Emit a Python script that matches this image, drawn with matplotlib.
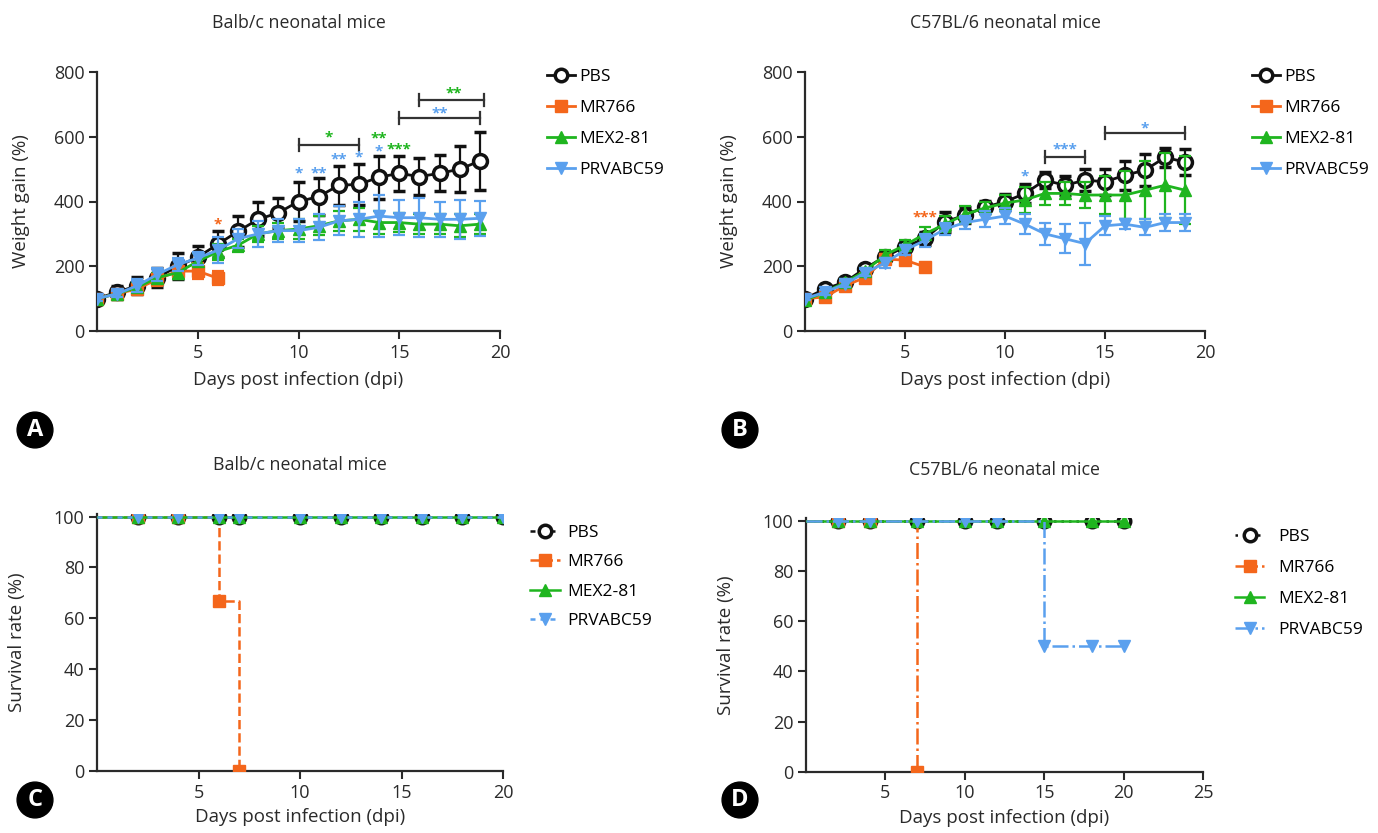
import numpy as np
import matplotlib
matplotlib.use("Agg")
import matplotlib.pyplot as plt
from matplotlib.lines import Line2D

plt.rcParams['font.family'] = ['Open Sans', 'DejaVu Sans']

# colours
c_pbs = '#111111'
c_mr = '#f4661b'
c_mex = '#1fb51f'
c_prv = '#5aa0ee'

groups = ['PBS', 'MR766', 'MEX2-81', 'PRVABC59']

# ---- weight gain, Balb/c (A)
days_a = list(range(20))
pbs_a = [100, 120, 140, 165, 200, 228, 268, 308, 345, 365, 400, 415, 450, 453, 475, 487, 477, 487, 500, 525]
pbs_a_err = [10, 20, 27, 30, 40, 35, 40, 47, 52, 46, 60, 58, 60, 63, 66, 54, 56, 56, 72, 89]
days_mr_a = list(range(7))
mr_a = [100, 115, 130, 160, 185, 185, 163]
mr_a_err = [10, 12, 15, 20, 15, 25, 22]
mex_a = [100, 115, 135, 165, 180, 215, 245, 265, 300, 310, 315, 325, 340, 345, 335, 335, 330, 330, 325, 330]
mex_a_err = [8, 10, 12, 15, 20, 25, 25, 20, 25, 25, 30, 30, 30, 35, 35, 30, 30, 30, 35, 30]
prv_a = [100, 115, 140, 175, 205, 225, 250, 285, 300, 310, 310, 320, 340, 345, 355, 350, 350, 345, 345, 348]
prv_a_err = [8, 10, 20, 20, 20, 20, 40, 30, 40, 35, 35, 40, 45, 55, 65, 55, 60, 55, 60, 55]

# ---- weight gain, C57BL/6 (B)
days_b = list(range(20))
pbs_b = [100, 130, 151, 193, 230, 260, 286, 337, 358, 383, 399, 425, 466, 450, 466, 461, 481, 497, 536, 522]
pbs_b_err = [8, 10, 10, 10, 15, 15, 20, 30, 25, 20, 25, 30, 25, 30, 35, 40, 45, 50, 30, 40]
days_mr_b = list(range(7))
mr_b = [100, 105, 140, 165, 222, 219, 198]
mr_b_err = [5, 8, 10, 10, 15, 15, 10]
mex_b = [95, 120, 150, 185, 235, 265, 300, 330, 360, 380, 395, 405, 425, 425, 420, 420, 420, 435, 450, 435]
mex_b_err = [5, 8, 10, 10, 15, 15, 20, 25, 25, 20, 25, 40, 35, 35, 40, 60, 75, 90, 100, 105]
prv_b = [100, 120, 145, 180, 210, 250, 280, 315, 335, 345, 355, 330, 300, 285, 270, 325, 330, 320, 335, 335]
prv_b_err = [5, 8, 10, 10, 15, 15, 20, 20, 20, 25, 25, 30, 35, 45, 65, 30, 15, 25, 25, 25]

# significance marks: (text, day, value, colour)
stars_a = [('*', 6, 330, c_mr), ('*', 10, 488, c_prv), ('**', 11, 488, c_prv),
           ('**', 12, 530, c_prv), ('*', 13, 535, c_prv), ('*', 14, 555, c_prv),
           ('**', 14, 595, c_mex), ('***', 15, 560, c_mex),
           ('*', 11.5, 597, c_mex), ('**', 17, 672, c_prv), ('**', 17.7, 733, c_mex)]
brackets_a = [(10, 13, 574), (15, 19, 657), (16, 19.2, 713)]
stars_b = [('***', 6, 352, c_mr), ('*', 11, 478, c_prv), ('***', 13, 560, c_prv),
           ('*', 17, 627, c_prv)]
brackets_b = [(12, 14, 538), (15, 19, 611)]

# ---- survival, Balb/c (C)
days_c = [0, 2, 4, 6, 7, 10, 12, 14, 16, 18, 20]
surv_pbs_c = [100] * 11
days_mr_c = [0, 2, 4, 6, 7]
surv_mr_c = [100, 100, 100, 66.7, 0]
surv_mex_c = [100] * 11
surv_prv_c = [100] * 11

# ---- survival, C57BL/6 (D)
days_d = [0, 2, 4, 7, 10, 12, 15, 18, 20]
surv_pbs_d = [100] * 9
days_mr_d = [0, 2, 4, 7]
surv_mr_d = [100, 100, 100, 0]
surv_mex_d = [100] * 9
surv_prv_d = [100, 100, 100, 100, 100, 100, 50, 50, 50]

W, H = 1378, 833
fig = plt.figure(figsize=(W / 100, H / 100), dpi=100)


def box(x0, x1, ytop, ybot):
    return [x0 / W, 1 - ybot / H, (x1 - x0) / W, (ybot - ytop) / H]


def style_axes(ax, xmax, xticks, ymax, yticks, ylabel, title, xpad, ypad):
    for s in ['top', 'right']:
        ax.spines[s].set_visible(False)
    for s in ['left', 'bottom']:
        ax.spines[s].set_linewidth(1.6)
        ax.spines[s].set_color('#2a2a2a')
    ax.set_xlim(0, xmax)
    ax.set_ylim(0, ymax)
    ax.set_xticks(xticks)
    ax.set_yticks(yticks)
    ax.tick_params(direction='out', length=6, width=1.5, labelsize=13, colors='#2a2a2a', pad=3)
    ax.set_xlabel('Days post infection (dpi)', fontsize=13.5, labelpad=xpad, color='#2a2a2a')
    ax.set_ylabel(ylabel, fontsize=13.5, labelpad=ypad, color='#2a2a2a')
    ax.text(0.5, 1.19, title, transform=ax.transAxes, ha='center', va='center',
            fontsize=12.8, color='#2a2a2a')


def weight_panel(ax, d, pbs, pbs_e, dmr, mr, mr_e, mex, mex_e, prv, prv_e, stars, brackets, title):
    kw = dict(lw=2, capsize=4, elinewidth=1.6, capthick=1.6)
    ax.errorbar(d, pbs, yerr=pbs_e, color=c_pbs, marker='o', ms=10, mfc='white', mew=2.5, zorder=3, **kw)
    ax.errorbar(dmr, mr, yerr=mr_e, color=c_mr, marker='s', ms=8, zorder=4, **kw)
    ax.errorbar(d, mex, yerr=mex_e, color=c_mex, marker='^', ms=8, zorder=4, **kw)
    ax.errorbar(d, prv, yerr=prv_e, color=c_prv, marker='v', ms=8, zorder=5, **kw)
    for txt, x, y, col in stars:
        ax.text(x, y, txt, color=col, ha='center', va='center', fontsize=11, fontweight='bold')
    for x0, x1, y in brackets:
        ax.plot([x0, x1], [y, y], color='#333333', lw=1.6)
        ax.plot([x0, x0], [y - 18, y + 18], color='#333333', lw=1.6)
        ax.plot([x1, x1], [y - 18, y + 18], color='#333333', lw=1.6)
    style_axes(ax, 20, [5, 10, 15, 20], 800, [0, 200, 400, 600, 800], 'Weight gain (%)', title, 7, 17)
    handles = [Line2D([], [], color=c_pbs, lw=2, marker='o', ms=9, mfc='white', mew=2.5),
               Line2D([], [], color=c_mr, lw=2, marker='s', ms=8),
               Line2D([], [], color=c_mex, lw=2, marker='^', ms=8),
               Line2D([], [], color=c_prv, lw=2, marker='v', ms=8)]
    ax.legend(handles, groups, loc='upper left', bbox_to_anchor=(1.1, 1.04), frameon=False,
              fontsize=12.5, handlelength=1.6, handletextpad=0.25,
              labelspacing=0.86, borderaxespad=0)


def surv_panel(ax, d, pbs, dmr, mr, mex, prv, xmax, xticks, styles, title, leg_anchor, tpad, lspace):
    ax.plot(d, pbs, drawstyle='steps-post', color=c_pbs, ls=styles[0], lw=1.8, marker='o', ms=9,
            mfc='white', mew=2.5, markevery=slice(1, None), label='PBS', zorder=3)
    ax.plot(dmr, mr, drawstyle='steps-post', color=c_mr, ls=styles[1], lw=1.8, marker='s', ms=8,
            markevery=slice(1, None), label='MR766', zorder=4)
    ax.plot(d, mex, drawstyle='steps-post', color=c_mex, ls=styles[2], lw=1.8, marker='^', ms=8,
            markevery=slice(1, None), label='MEX2-81', zorder=4)
    ax.plot(d, prv, drawstyle='steps-post', color=c_prv, ls=styles[3], lw=1.8, marker='v', ms=8,
            markevery=slice(1, None), label='PRVABC59', zorder=5)
    style_axes(ax, xmax, xticks, 100, [0, 20, 40, 60, 80, 100], 'Survival rate (%)', title, 5, 20)
    ax.set_ylim(0, 101)
    ax.legend(loc='upper left', bbox_to_anchor=leg_anchor, frameon=False,
              fontsize=12.5, handlelength=1.7, handletextpad=tpad,
              labelspacing=lspace, borderaxespad=0)


ax_a = fig.add_axes(box(97, 500, 72, 331))
weight_panel(ax_a, days_a, pbs_a, pbs_a_err, days_mr_a, mr_a, mr_a_err, mex_a, mex_a_err,
             prv_a, prv_a_err, stars_a, brackets_a, 'Balb/c neonatal mice')

ax_b = fig.add_axes(box(805, 1205, 72, 331))
weight_panel(ax_b, days_b, pbs_b, pbs_b_err, days_mr_b, mr_b, mr_b_err, mex_b, mex_b_err,
             prv_b, prv_b_err, stars_b, brackets_b, 'C57BL/6 neonatal mice')

ax_c = fig.add_axes(box(97, 503, 514, 771))
surv_panel(ax_c, days_c, surv_pbs_c, days_mr_c, surv_mr_c, surv_mex_c, surv_prv_c, 20,
           [5, 10, 15, 20], [(0, (2, 2)), '--', '-', (0, (2, 2))], 'Balb/c neonatal mice',
           (1.05, 0.985), 0.45, 0.76)

ax_d = fig.add_axes(box(806, 1203, 518, 772))
surv_panel(ax_d, days_d, surv_pbs_d, days_mr_d, surv_mr_d, surv_mex_d, surv_prv_d, 25,
           [5, 10, 15, 20, 25], [(0, (1, 2)), '-.', '-', '-.'], 'C57BL/6 neonatal mice',
           (1.063, 0.985), 0.8, 0.86)

# panel badges
for lab, x, y in [('A', 35, 430), ('B', 740, 430), ('C', 35, 800), ('D', 740, 800)]:
    fig.text(x / W, 1 - y / H, lab, ha='center', va='center', color='white', fontsize=17,
             fontweight='bold', bbox=dict(boxstyle='circle,pad=0.25', fc='black', ec='black'))

fig.savefig('out.png', dpi=100)
